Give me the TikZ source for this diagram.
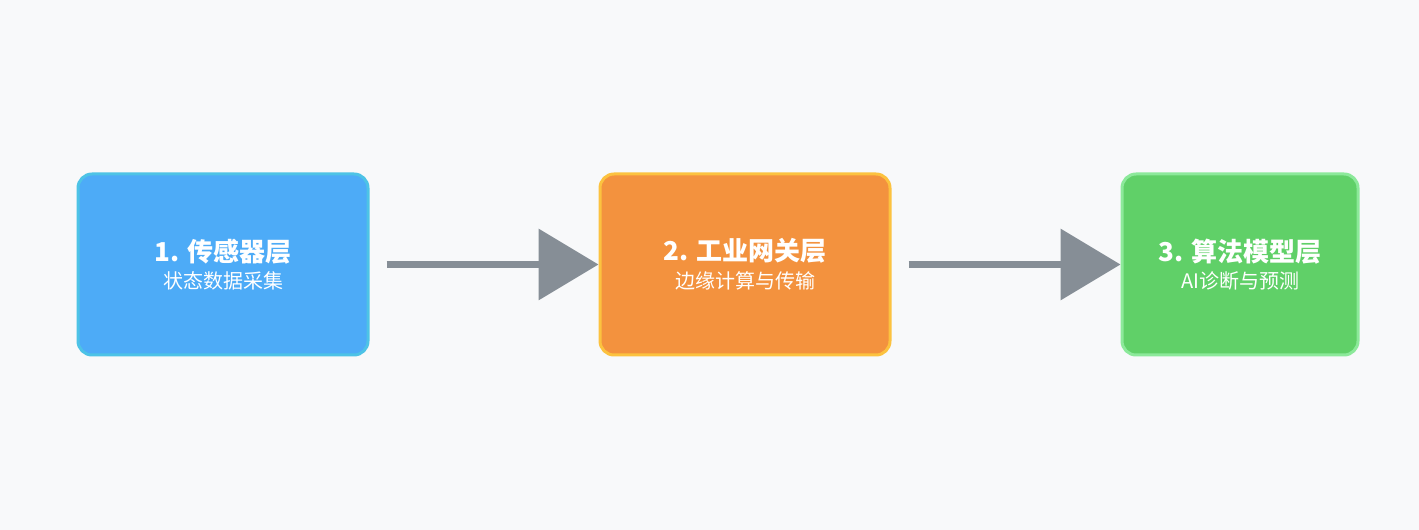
\documentclass[tikz,border=0pt]{standalone}
\usepackage{fontspec}
\setmainfont{Noto Sans CJK SC}
\usetikzlibrary{arrows.meta}
\definecolor{bgcol}{HTML}{F8F9FA}
\definecolor{arrowcol}{HTML}{868E96}
\definecolor{bluefill}{HTML}{4DABF7}
\definecolor{blueline}{HTML}{4DC3E6}
\definecolor{orangefill}{HTML}{F3923E}
\definecolor{orangeline}{HTML}{FCC23F}
\definecolor{greenfill}{HTML}{60D068}
\definecolor{greenline}{HTML}{8CE99A}
\tikzset{
  layerbox/.style={rounded corners=10.5pt, line width=2.25pt, text=white, align=center, inner sep=0pt},
  flowarrow/.style={draw=arrowcol, line width=5.25pt, shorten <=12.75pt,
    -{Triangle[length=45pt, width=52.5pt, fill=arrowcol]}}
}
\begin{document}
\begin{tikzpicture}[x=0.75pt,y=0.75pt,yscale=-1,xscale=1]
\fill[bgcol] (0,0) rectangle (1419,530);
\useasboundingbox (0,0) rectangle (1419,530);

% boxes
\node (sensor) [layerbox, draw=blueline, fill=bluefill, minimum width=217.5pt, minimum height=135.75pt] at (223,264.5)
  {{\fontsize{19.5pt}{23pt}\bfseries 1. 传感器层}\\[5pt]{\fontsize{15pt}{18pt}\selectfont 状态数据采集}};
\node (gateway) [layerbox, draw=orangeline, fill=orangefill, minimum width=217.5pt, minimum height=135.75pt] at (745,264.5)
  {{\fontsize{19.5pt}{23pt}\bfseries 2. 工业网关层}\\[5pt]{\fontsize{15pt}{18pt}\selectfont 边缘计算与传输}};
\node (model) [layerbox, draw=greenline, fill=greenfill, minimum width=177pt, minimum height=135.75pt] at (1240,264.5)
  {{\fontsize{19.5pt}{23pt}\bfseries 3. 算法模型层}\\[5pt]{\fontsize{15pt}{18pt}\selectfont AI诊断与预测}};

% arrows
\draw[flowarrow] (sensor.east) -- (gateway.west);
\draw[flowarrow] (gateway.east) -- (model.west);
\end{tikzpicture}
\end{document}
